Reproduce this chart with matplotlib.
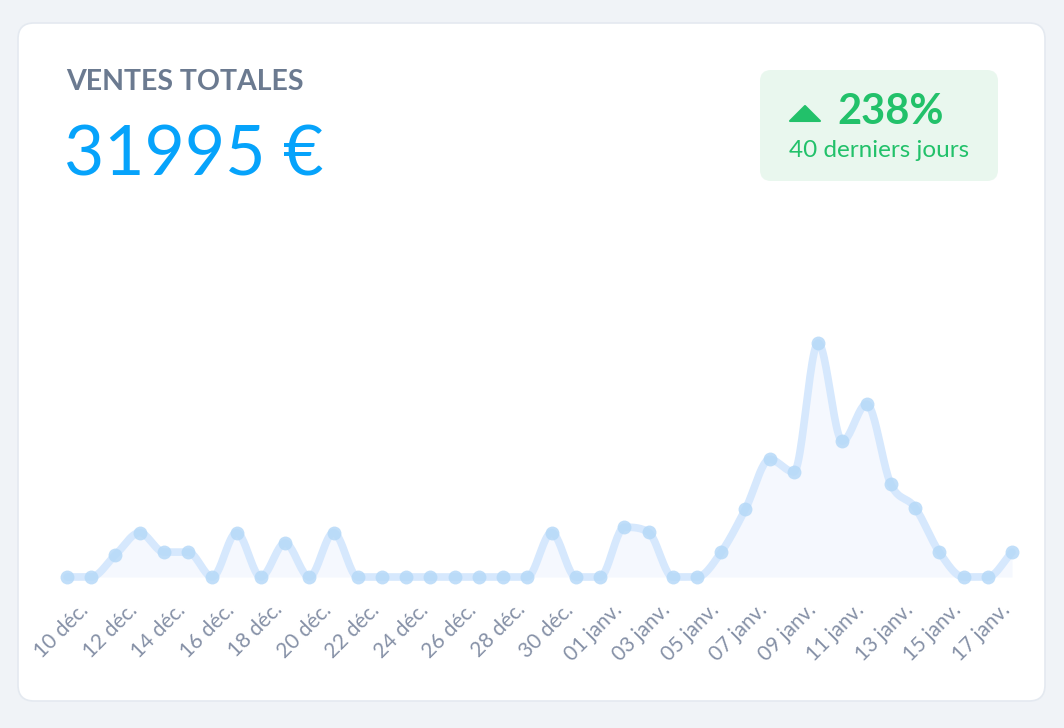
import numpy as np
import matplotlib
matplotlib.use("Agg")
import matplotlib.pyplot as plt
from matplotlib.patches import FancyBboxPatch, Polygon
from matplotlib.transforms import ScaledTranslation

plt.rcParams['font.family'] = ['Lato', 'DejaVu Sans']

# ventes journalières (€), 10 déc. -> 18 janv. (40 jours)
ventes = [0, 0, 490, 980, 550, 550, 0, 980, 0, 750,
          0, 980, 0, 0, 0, 0, 0, 0, 0, 0,
          980, 0, 0, 1100, 990, 0, 0, 550, 1500, 2600,
          2320, 5170, 3000, 3820, 2050, 1535, 550, 0, 0, 550]
etiquettes = ['10 déc.', '12 déc.', '14 déc.', '16 déc.', '18 déc.', '20 déc.',
              '22 déc.', '24 déc.', '26 déc.', '28 déc.', '30 déc.', '01 janv.',
              '03 janv.', '05 janv.', '07 janv.', '09 janv.', '11 janv.',
              '13 janv.', '15 janv.', '17 janv.']
titre = 'VENTES TOTALES'
total = '31995 €'
variation = '238%'
periode = '40 derniers jours'

W, H = 1064, 728
fig = plt.figure(figsize=(W / 100, H / 100), dpi=100)
fig.patch.set_facecolor('#f0f3f7')

# carte blanche + badge vert
bg = fig.add_axes([0, 0, 1, 1])
bg.set_xlim(0, W)
bg.set_ylim(H, 0)
bg.axis('off')
bg.add_patch(FancyBboxPatch((18, 23), 1027, 678, boxstyle='round,pad=0,rounding_size=16',
                            facecolor='white', edgecolor='#e4e9f0', linewidth=1.2))
bg.add_patch(FancyBboxPatch((760, 70), 238, 111, boxstyle='round,pad=0,rounding_size=11',
                            facecolor='#e9f7ee', edgecolor='none'))
bg.add_patch(Polygon([(790, 121), (820, 121), (805, 106)], closed=True,
                     facecolor='#22c16a', edgecolor='#22c16a', linewidth=1.5, joinstyle='round'))

bg.text(66, 90, titre, fontsize=20.5, fontweight='bold', color='#6b7a90', va='baseline')
bg.text(64, 176, total, fontsize=50, color='#06a3fb', va='baseline')
bg.text(837, 124, variation, fontsize=30, fontweight='bold', color='#22c16a', va='baseline')
bg.text(789, 157, periode, fontsize=17.5, color='#22c16a', va='baseline')

# courbe
ymax = 5500
ax = fig.add_axes([67 / W, (H - 577) / H, 945 / W, ymax * 234 / 5170 / H])
ax.set_xlim(0, len(ventes) - 1)
ax.set_ylim(0, ymax)
for s in ax.spines.values():
    s.set_visible(False)
ax.patch.set_alpha(0)

# interpolation monotone (comme cubicInterpolationMode: 'monotone')
x = np.arange(len(ventes), dtype=float)
y = np.array(ventes, dtype=float)
d = np.diff(y)
m = np.zeros_like(y)
m[0], m[-1] = d[0], d[-1]
for i in range(1, len(y) - 1):
    if d[i - 1] * d[i] > 0:
        m[i] = (d[i - 1] + d[i]) / 2
for i in range(len(d)):
    if d[i] == 0:
        m[i] = m[i + 1] = 0
    else:
        a, b = m[i] / d[i], m[i + 1] / d[i]
        s = a * a + b * b
        if s > 9:
            t = 3 / np.sqrt(s)
            m[i], m[i + 1] = t * a * d[i], t * b * d[i]
xs, ys = [], []
for i in range(len(d)):
    t = np.linspace(0, 1, 25)
    h00 = 2 * t**3 - 3 * t**2 + 1
    h10 = t**3 - 2 * t**2 + t
    h01 = -2 * t**3 + 3 * t**2
    h11 = t**3 - t**2
    xs.extend(x[i] + t)
    ys.extend(h00 * y[i] + h10 * m[i] + h01 * y[i + 1] + h11 * m[i + 1])
xs, ys = np.array(xs), np.array(ys)

ax.fill_between(xs, 0, ys, color='#f5f8fe', linewidth=0)
ax.plot(xs, ys, color='#d6e8fd', linewidth=5.5, solid_capstyle='round', clip_on=False)
ax.plot(x, y, 'o', markersize=10, color='#b6d9f8', alpha=0.85, markeredgewidth=0, clip_on=False)

ax.set_xticks(x[::2])
ax.set_xticklabels(etiquettes, rotation=45, ha='right', va='baseline',
                   rotation_mode='anchor', fontsize=15, color='#8590a6')
ax.tick_params(axis='x', length=0, pad=0)
ax.set_yticks([])
off = ScaledTranslation(23 / 100, -34 / 100, fig.dpi_scale_trans)
for lab in ax.get_xticklabels():
    lab.set_transform(lab.get_transform() + off)

fig.savefig('out.png', dpi=100, facecolor=fig.get_facecolor())
